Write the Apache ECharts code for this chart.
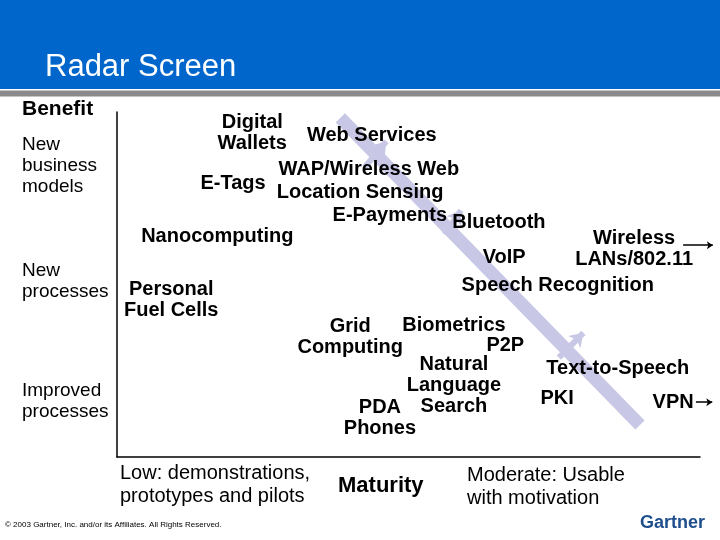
<!DOCTYPE html>
<html lang="en">
<head>
<meta charset="UTF-8">
<title>Radar Screen</title>
<script src="https://cdn.jsdelivr.net/npm/echarts@6/dist/echarts.min.js"></script>
<style>
  body { margin: 0; background: #fff; }
  #Chart1 { width: 720px; height: 540px; }
</style>
</head>
<body>
<div id="Chart1"></div>
<script>
// technologies on the radar: maturity (x, 0-100) and benefit (y, 0-100)
const techNames = [
    'Digital\nWallets', 'Web Services', 'WAP/Wireless Web', 'E-Tags', 'Location Sensing',
    'E-Payments', 'Bluetooth', 'Nanocomputing', 'Wireless\nLANs/802.11', 'VoIP',
    'Speech Recognition', 'Personal\nFuel Cells', 'Grid\nComputing', 'Biometrics', 'P2P',
    'Natural\nLanguage\nSearch', 'PDA\nPhones', 'Text-to-Speech', 'PKI', 'VPN'
];
const techMaturity = [23.2, 43.7, 43.2, 19.9, 41.7, 46.8, 65.5, 17.2, 88.7, 66.4,
                      75.6, 9.3, 40.0, 57.8, 66.6, 57.8, 45.1, 85.9, 75.5, 95.4];
const techBenefit  = [93.9, 93.3, 83.2, 79.4, 76.8, 69.9, 68.1, 63.8, 60.4, 57.7,
                      49.6, 45.5, 34.8, 38.0, 32.2, 20.6, 11.2, 25.8, 17.1, 15.9];

// lavender trend line and its small branch arrows
const trendLine = [[38.3, 98.3], [89.7, 9.3]];
const trendBranches = [
    [[42.5, 84.0], [46.2, 91.5]],
    [[56.2, 64.5], [59.0, 71.5]],
    [[75.8, 28.8], [80.0, 36.0]]
];
// "moving off the screen" arrows
const exitArrows = [
    [[97.1, 61.4], [102.2, 61.4]],
    [[99.3, 15.9], [102.1, 15.9]]
];

const benefitLabels = ['New\nbusiness\nmodels', 'New\nprocesses', 'Improved\nprocesses'];
const maturityLabels = ['Low: demonstrations,\nprototypes and pilots', 'Maturity', 'Moderate: Usable\nwith motivation'];

const FONT = 'Arial, "Liberation Sans", Helvetica, sans-serif';

let myChart1 = echarts.init(document.getElementById('Chart1'));

let techData = techNames.map(function (n, i) {
    return { name: n, value: [techMaturity[i], techBenefit[i]] };
});

function txt(text, x, y, size, weight, color) {
    return {
        type: 'text', x: x, y: y, silent: true,
        style: {
            text: text, fill: color || '#000',
            font: (weight || 'normal') + ' ' + size + 'px ' + FONT,
            lineHeight: Math.round(size * 1.13),
            textVerticalAlign: 'middle'
        }
    };
}

let option = {
    backgroundColor: '#fff',
    animation: false,
    grid: { left: 117, right: 20, top: 112, bottom: 83 },
    xAxis: {
        type: 'value', min: 0, max: 100,
        axisLine: { show: true, lineStyle: { color: '#000', width: 1.5 } },
        axisTick: { show: false }, axisLabel: { show: false }, splitLine: { show: false }
    },
    yAxis: {
        type: 'value', min: 0, max: 100,
        axisLine: { show: true, lineStyle: { color: '#000', width: 1.5 } },
        axisTick: { show: false }, axisLabel: { show: false }, splitLine: { show: false }
    },
    graphic: [
        { type: 'rect', shape: { x: 0, y: 0, width: 720, height: 89 }, style: { fill: '#0066CC' } },
        { type: 'rect', shape: { x: 0, y: 90.5, width: 720, height: 6 }, style: { fill: '#8A8A8A' } },
        txt('Radar Screen', 45, 67, 31, 'normal', '#fff'),
        txt('Benefit', 22, 109, 21, 'bold'),
        txt(benefitLabels[0], 22, 166, 19),
        txt(benefitLabels[1], 22, 281, 19),
        txt(benefitLabels[2], 22, 401, 19),
        txt(maturityLabels[0], 120, 485, 20),
        txt(maturityLabels[1], 338, 486, 22, 'bold'),
        txt(maturityLabels[2], 467, 487, 20),
        txt('\u00a9 2003 Gartner, Inc. and/or its Affiliates. All Rights Reserved.', 5, 525, 8),
        txt('Gartner', 640, 523, 18, 'bold', '#1F4E8C')
    ],
    series: [
        {
            type: 'lines',
            coordinateSystem: 'cartesian2d',
            z: 1,
            symbol: ['none', 'none'],
            lineStyle: { color: '#C8C8E6', width: 13, opacity: 1, cap: 'butt' },
            data: [{ coords: trendLine }]
        },
        {
            type: 'lines',
            coordinateSystem: 'cartesian2d',
            z: 1,
            symbol: ['none', 'arrow'],
            symbolSize: 13,
            lineStyle: { color: '#C8C8E6', width: 6, opacity: 1 },
            data: trendBranches.map(function (c) { return { coords: c }; })
        },
        {
            type: 'lines',
            coordinateSystem: 'cartesian2d',
            clip: false,
            z: 3,
            symbol: ['none', 'arrow'],
            symbolSize: 6,
            lineStyle: { color: '#000', width: 1.5, opacity: 1 },
            data: exitArrows.map(function (c) { return { coords: c }; })
        },
        {
            type: 'scatter',
            z: 4,
            symbolSize: 0.1,
            itemStyle: { color: '#000', opacity: 1 },
            label: {
                show: true,
                position: 'inside',
                formatter: function (p) { return p.name; },
                color: '#000',
                opacity: 1,
                textBorderWidth: 0,
                fontFamily: FONT,
                fontWeight: 'bold',
                fontSize: 20,
                lineHeight: 21,
                align: 'center',
                verticalAlign: 'middle'
            },
            emphasis: { disabled: true },
            labelLayout: { hideOverlap: false },
            data: techData
        }
    ]
};

myChart1.setOption(option);
</script>
</body>
</html>
